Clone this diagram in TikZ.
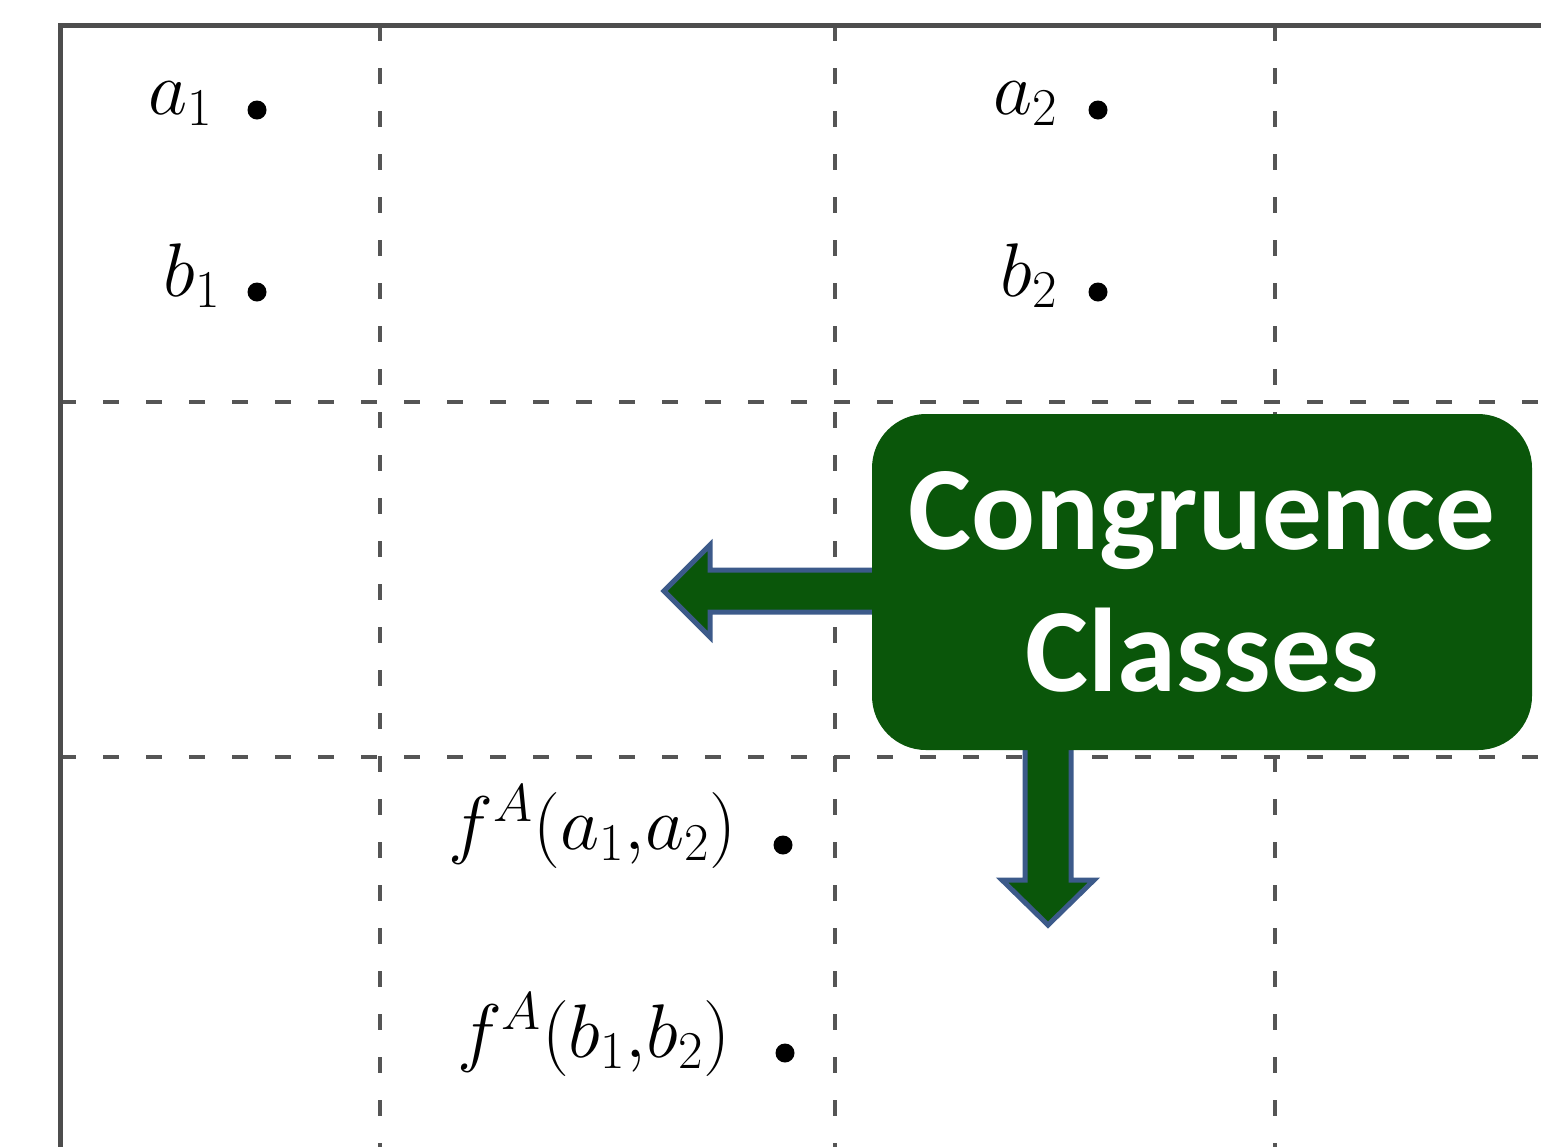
\RequirePackage{fix-cm}
\documentclass[tikz,border=0pt]{standalone}
\usepackage{fontspec}
\newfontfamily\callfont{Carlito}
\definecolor{framegray}{RGB}{77,77,77}
\definecolor{dashgray}{RGB}{85,85,85}
\definecolor{callgreen}{RGB}{10,86,10}
\definecolor{pointblue}{RGB}{60,90,138}

\begin{document}
\begin{tikzpicture}[x=0.5pt, y=-0.5pt,
  frame/.style={line width=2.5pt, draw=framegray},
  gridline/.style={line width=1.6pt, draw=dashgray, dash pattern=on 8pt off 13.5pt},
  dot/.style={circle, fill=black, minimum size=9.5pt, inner sep=0pt},
  lbl/.style={anchor=mid east, inner sep=0pt, font=\fontsize{38}{44}\selectfont},
  callout/.style={rounded corners=27pt, fill=callgreen, minimum width=330pt, minimum height=168pt, inner sep=0pt, text=white, align=center, font=\callfont\bfseries\fontsize{59.5}{71}\selectfont},
  pointer/.style={fill=callgreen, draw=pointblue, line width=2.5pt, line join=miter}
]
\useasboundingbox (0,0) rectangle (1541,1147);
\foreach \gx in {380,835,1275} \draw[gridline] (\gx,25) -- (\gx,1147);
\foreach \gy in {402,757} \draw[gridline] (60,\gy) -- (1541,\gy);
\draw[frame] (1541,25) -- (60,25) -- (60,1147);
% elements
\node[dot] (a1) at (257,110) {};
\node[dot] (b1) at (257,292) {};
\node[dot] (a2) at (1098,110) {};
\node[dot] (b2) at (1098,292) {};
\node[dot] (fa) at (783,845) {};
\node[dot] (fb) at (785,1053) {};
\node[lbl] (la1) at ([xshift=-22pt]a1.center) {$a_1$};
\node[lbl] (lb1) at ([xshift=-18pt]b1.center) {$b_1$};
\node[lbl] (la2) at ([xshift=-20pt]a2.center) {$a_2$};
\node[lbl] (lb2) at ([xshift=-20pt]b2.center) {$b_2$};
\node[lbl] (lfa) at ([xshift=-23pt]fa.center) {$f^{A}(a_1{,}a_2)$};
\node[lbl] (lfb) at ([xshift=-27pt]fb.center) {$f^{A}(b_1{,}b_2)$};
% callout
\coordinate (tipL) at (664,591);
\coordinate (tipD) at (1048,925);
\filldraw[pointer] (tipL) -- ++(46,-46) -- ++(0,25) -- ++(200,0) -- ++(0,42) -- ++(-200,0) -- ++(0,25) -- cycle;
\filldraw[pointer] (tipD) -- ++(-46,-45) -- ++(23,0) -- ++(0,-180) -- ++(46,0) -- ++(0,180) -- ++(23,0) -- cycle;
\node[callout] (cc) at (1202,582) {Congruence\\Classes};
\end{tikzpicture}
\end{document}
